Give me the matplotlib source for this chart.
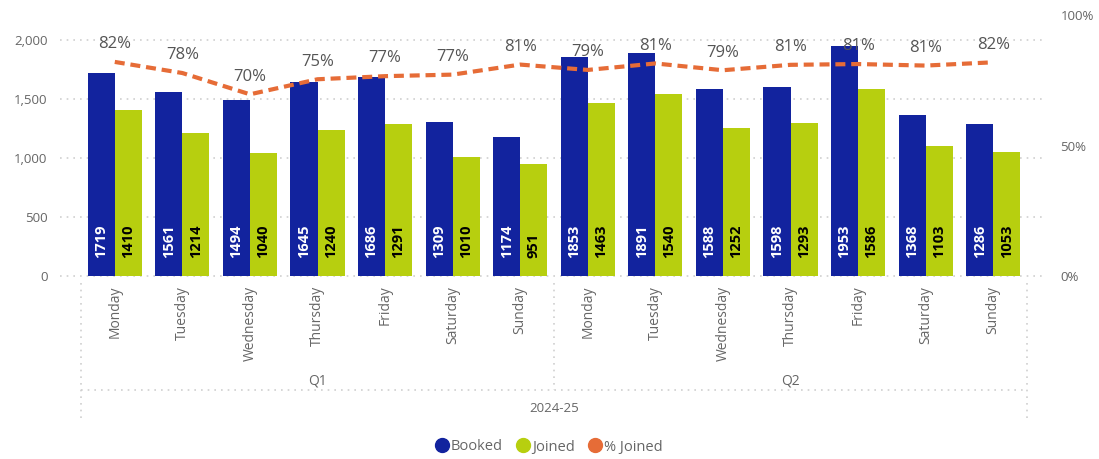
import numpy as np
import matplotlib
matplotlib.use("Agg")
from matplotlib import pyplot as plt
from matplotlib.transforms import blended_transform_factory
from matplotlib.lines import Line2D

plt.rcParams['font.family'] = ['Open Sans', 'DejaVu Sans']

days = ["Monday", "Tuesday", "Wednesday", "Thursday", "Friday", "Saturday", "Sunday"] * 2
quarters = ["Q1", "Q2"]
year = "2024-25"
booked = [1719, 1561, 1494, 1645, 1686, 1309, 1174, 1853, 1891, 1588, 1598, 1953, 1368, 1286]
joined = [1410, 1214, 1040, 1240, 1291, 1010, 951, 1463, 1540, 1252, 1293, 1586, 1103, 1053]
pct_joined = np.array(joined) / np.array(booked)

blue = "#12239E"
green = "#B7CF0F"
orange = "#E66C37"
grey = "#666666"
grid_c = "#CFCFCF"

fig = plt.figure(figsize=(10.99, 4.59), dpi=100)
ax = fig.add_axes([0.0737, 0.3987, 0.8608, 0.5686])
ax2 = ax.twinx()

x = np.arange(len(days))
w = 0.4
ax.bar(x - w/2, booked, w, color=blue, zorder=2)
ax.bar(x + w/2, joined, w, color=green, zorder=2)

ax.set_xlim(-0.5, len(days) - 0.5)
ax.set_ylim(0, 2212)
ax.set_yticks([0, 500, 1000, 1500, 2000])
ax.set_yticklabels(["0", "500", "1,000", "1,500", "2,000"])
ax.set_xticks(x)
ax.set_xticklabels(days, rotation=90, va="top")
ax.tick_params(axis="y", length=0, pad=24, labelsize=9.5, labelcolor=grey)
ax.tick_params(axis="x", length=0, pad=7, labelsize=10, labelcolor=grey)
for s in ax.spines.values():
    s.set_visible(False)
for s in ax2.spines.values():
    s.set_visible(False)

for v in [0, 500, 1000, 1500, 2000]:
    ax.axhline(v, xmin=-0.022, xmax=1.017, color=grid_c, lw=1.2, ls=(0, (1, 3)), clip_on=False, zorder=0)

for i in range(len(days)):
    ax.annotate(str(booked[i]), (x[i] - w/2, 0), xytext=(0, 13), textcoords="offset points",
                rotation=90, ha="center", va="bottom", color="white", fontsize=10.5,
                fontweight="bold", zorder=3)
    ax.annotate(str(joined[i]), (x[i] + w/2, 0), xytext=(0, 13), textcoords="offset points",
                rotation=90, ha="center", va="bottom", color="black", fontsize=10.5,
                fontweight="bold", zorder=3)

ax2.set_ylim(0, 1)
ax2.set_yticks([0, 0.5, 1])
ax2.set_yticklabels(["0%", "50%", "100%"])
ax2.tick_params(axis="y", length=0, pad=24, labelsize=9.5, labelcolor=grey)
ax2.plot(x, pct_joined, color=orange, lw=3, ls=(0, (2.4, 1.4)), zorder=4)
for i in range(len(days)):
    ax2.annotate(f"{pct_joined[i]:.0%}", (x[i], pct_joined[i]), xytext=(0, 7),
                 textcoords="offset points", ha="center", va="bottom", color="#555555",
                 fontsize=12, zorder=5)

# category separators below the axis
tr = blended_transform_factory(ax.transData, fig.transFigure)
y_top = 1 - 283 / 459
y_mid = 1 - 390 / 459
y_bot = 1 - 420 / 459
dot = dict(color=grid_c, lw=1.2, ls=(0, (1, 3)), transform=tr)
fig.add_artist(Line2D([-0.5, -0.5], [y_top, y_bot], **dot))
fig.add_artist(Line2D([13.5, 13.5], [y_top, y_bot], **dot))
fig.add_artist(Line2D([6.5, 6.5], [y_top, y_mid], **dot))
fig.add_artist(Line2D([-0.5, 13.5], [y_mid, y_mid], **dot))

fig.text(3, 1 - 381 / 459, quarters[0], transform=tr, ha="center", va="center", color=grey, fontsize=10)
fig.text(10, 1 - 381 / 459, quarters[1], transform=tr, ha="center", va="center", color=grey, fontsize=10)
fig.text(6.5, 1 - 408 / 459, year, transform=tr, ha="center", va="center", color=grey, fontsize=9.5)

handles = [Line2D([], [], marker="o", ls="", color=c, markersize=10) for c in (blue, green, orange)]
fig.legend(handles, ["Booked", "Joined", "% Joined"], loc="center", bbox_to_anchor=(0.499, 1 - 447 / 459),
           ncol=3, frameon=False, fontsize=10.5, labelcolor=grey, handletextpad=0.1,
           columnspacing=0.9, handlelength=1.0)

fig.savefig("out.png", dpi=100)
